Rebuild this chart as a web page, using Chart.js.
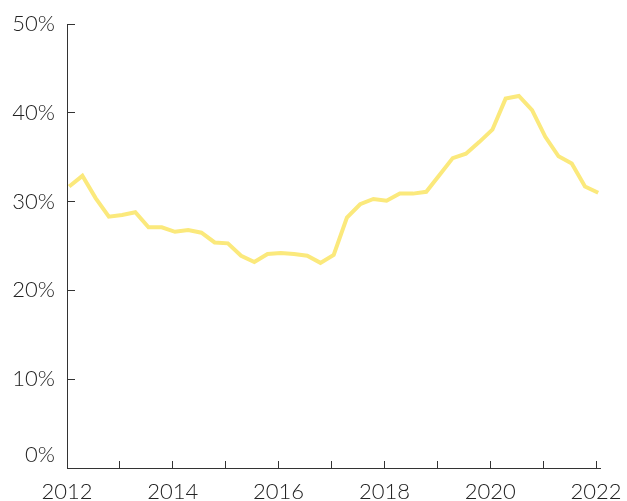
<!DOCTYPE html>
<html>
<head>
<meta charset="utf-8">
<script src="https://cdn.jsdelivr.net/npm/chart.js@4"></script>
<style>
  html, body { margin: 0; padding: 0; background: #ffffff; }
  #wrap { width: 627px; height: 501px; position: relative; }
</style>
</head>
<body>
<div id="wrap"><canvas id="c" width="627" height="501"></canvas></div>
<script>
// Quarterly observations (first month of each quarter)
const periods = [
  '2012-01','2012-04','2012-07','2012-10',
  '2013-01','2013-04','2013-07','2013-10',
  '2014-01','2014-04','2014-07','2014-10',
  '2015-01','2015-04','2015-07','2015-10',
  '2016-01','2016-04','2016-07','2016-10',
  '2017-01','2017-04','2017-07','2017-10',
  '2018-01','2018-04','2018-07','2018-10',
  '2019-01','2019-04','2019-07','2019-10',
  '2020-01','2020-04','2020-07','2020-10',
  '2021-01','2021-04','2021-07','2021-10',
  '2022-01'
];
const shareValues = [
  31.7, 32.9, 30.4, 28.3,
  28.5, 28.8, 27.1, 27.1,
  26.6, 26.8, 26.5, 25.4,
  25.3, 23.9, 23.2, 24.1,
  24.2, 24.1, 23.9, 23.1,
  24.0, 28.2, 29.7, 30.3,
  30.1, 30.9, 30.9, 31.1,
  33.0, 34.9, 35.4, 36.7,
  38.1, 41.6, 41.9, 40.3,
  37.3, 35.1, 34.3, 31.7,
  31.0
];
const yTicks = [0, 10, 20, 30, 40, 50];
const xLabelYears = [2012, 2014, 2016, 2018, 2020, 2022];

function toDecimalYear(p) {
  const [y, m] = p.split('-').map(Number);
  return y + (m - 1) / 12 + 15 / 365;
}
const points = periods.map((p, i) => ({ x: toDecimalYear(p), y: shareValues[i] }));

const FONT = { family: 'Lato, "DejaVu Sans", sans-serif', size: 22, weight: 300 };
const AXIS_COLOR = '#333333';

new Chart(document.getElementById('c'), {
  type: 'line',
  data: {
    datasets: [{
      data: points,
      borderColor: '#fbe97c',
      borderWidth: 4,
      pointRadius: 0,
      tension: 0,
      fill: false,
      borderJoinStyle: 'miter'
    }]
  },
  options: {
    responsive: false,
    animation: false,
    devicePixelRatio: 1,
    layout: { padding: { top: 24, right: 27, left: 0, bottom: 0 } },
    plugins: { legend: { display: false }, tooltip: { enabled: false } },
    scales: {
      x: {
        type: 'linear',
        min: 2012,
        max: 2022.075,
        afterFit: s => {
          s.height = 33;
          s.paddingLeft = 0; s.paddingRight = 0;
          s.paddingTop = 0; s.paddingBottom = 0;
        },
        afterBuildTicks: s => {
          s.ticks = [];
          for (let y = 2012; y <= 2022; y++) s.ticks.push({ value: y });
        },
        ticks: {
          autoSkip: false,
          maxRotation: 0,
          padding: 18,
          color: '#222222',
          font: FONT,
          callback: v => xLabelYears.includes(v) ? String(v) : ''
        },
        grid: {
          drawOnChartArea: false,
          drawTicks: true,
          tickLength: -7,
          tickColor: AXIS_COLOR,
          tickWidth: 1
        },
        border: { display: true, color: AXIS_COLOR, width: 1 }
      },
      y: {
        min: 0,
        max: 50,
        afterFit: s => {
          s.width = 67;
          s.paddingLeft = 0; s.paddingRight = 0;
          s.paddingTop = 0; s.paddingBottom = 0;
        },
        afterBuildTicks: s => { s.ticks = yTicks.map(v => ({ value: v })); },
        ticks: {
          padding: 20,
          color: '#222222',
          font: FONT,
          callback: v => v === 0 ? ['0%', ''] : v + '%'
        },
        grid: {
          drawOnChartArea: false,
          drawTicks: true,
          tickLength: -8,
          tickColor: AXIS_COLOR,
          tickWidth: 1
        },
        border: { display: true, color: AXIS_COLOR, width: 1 }
      }
    }
  }
});
</script>
</body>
</html>
